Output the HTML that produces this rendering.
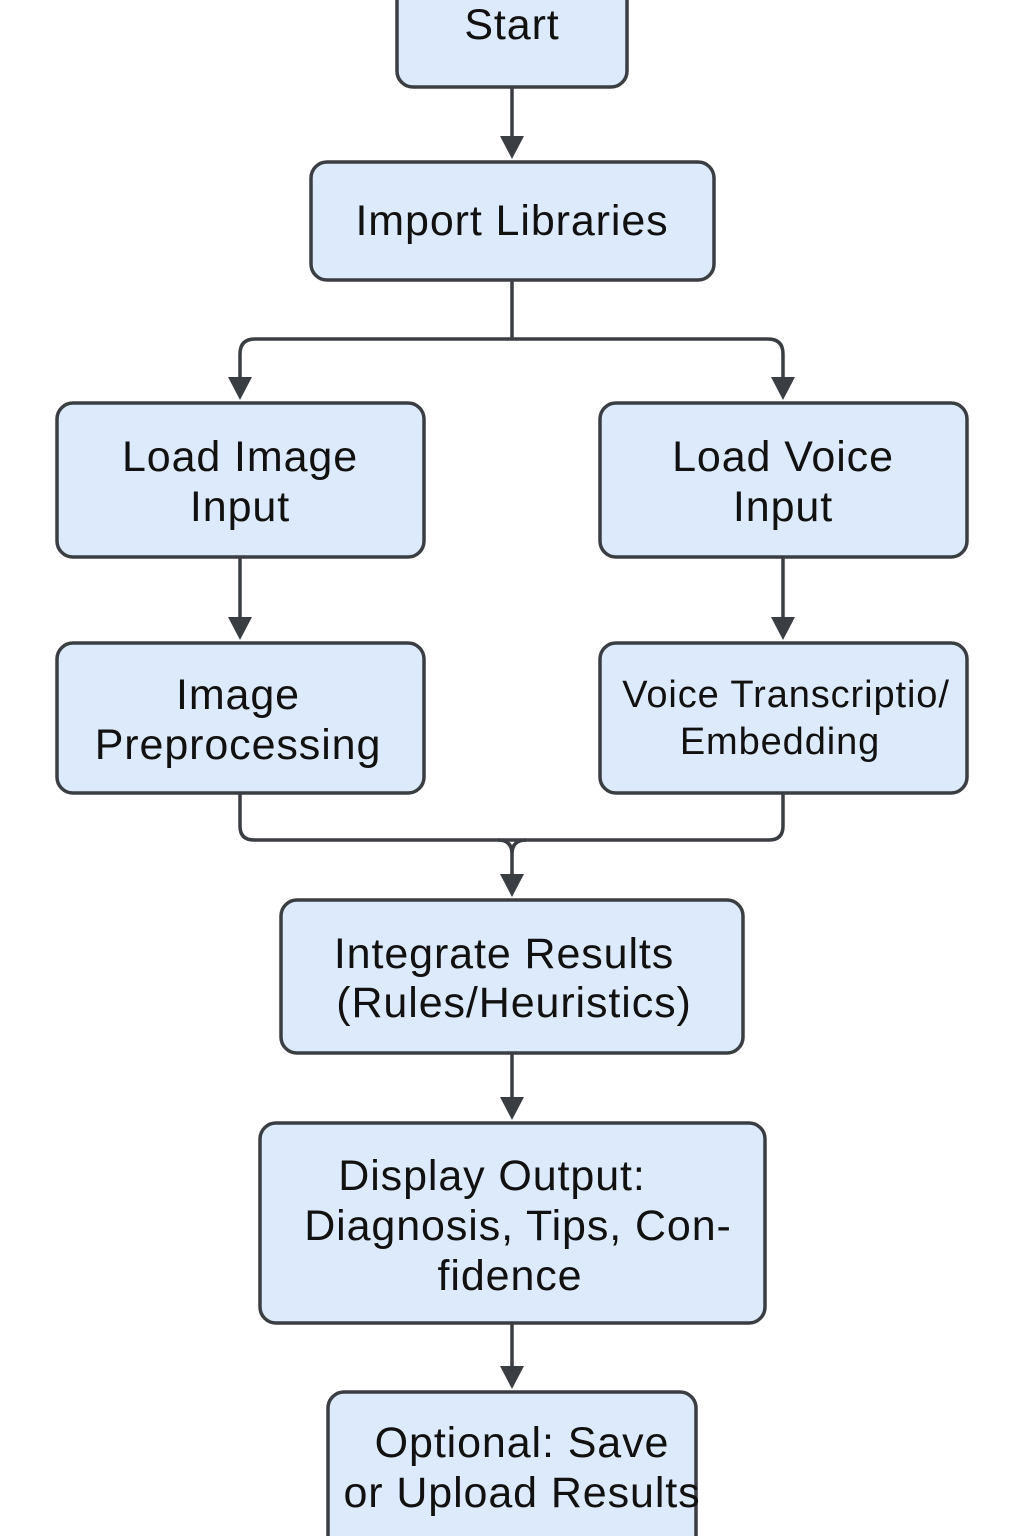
<!DOCTYPE html>
<html><head><style>
html,body{margin:0;padding:0;background:#fff;}
svg{display:block;}
text{font-family:"Liberation Sans",sans-serif;fill:#111;text-anchor:middle;letter-spacing:0.9px;}
</style></head><body>
<svg width="1024" height="1536" viewBox="0 0 1024 1536">
<g fill="#dceafb" stroke="#3a3d42" stroke-width="3.5">
<rect x="397" y="-20" width="230" height="107" rx="16"/>
<rect x="311" y="162" width="403" height="118" rx="16"/>
<rect x="57" y="403" width="367" height="154" rx="16"/>
<rect x="600" y="403" width="367" height="154" rx="16"/>
<rect x="57" y="643" width="367" height="150" rx="16"/>
<rect x="600" y="643" width="367" height="150" rx="16"/>
<rect x="281" y="900" width="462" height="153" rx="16"/>
<rect x="260" y="1123" width="505" height="200" rx="16"/>
<rect x="328" y="1392" width="368" height="170" rx="16"/>
</g>
<g stroke="#3a3d42" stroke-width="3.5" fill="none">
<path d="M512 88 V138"/>
<path d="M512 281 V339"/>
<path d="M240 380 V354 Q240 339 255 339 H768 Q783 339 783 354 V380"/>
<path d="M240 558 V620"/>
<path d="M783 558 V620"/>
<path d="M240 794 V826 Q240 840 254 840 H769 Q783 840 783 826 V794"/>
<path d="M498 840 Q512 840 512 854 V878 M526 840 Q512 840 512 854"/>
<path d="M512 1054 V1100"/>
<path d="M512 1324 V1370"/>
</g>
<g fill="#3a3d42">
<path d="M500 136 L524 136 L512 159z"/>
<path d="M228 377 L252 377 L240 400z"/>
<path d="M771 377 L795 377 L783 400z"/>
<path d="M228 617 L252 617 L240 640z"/>
<path d="M771 617 L795 617 L783 640z"/>
<path d="M500 874 L524 874 L512 897z"/>
<path d="M500 1097 L524 1097 L512 1120z"/>
<path d="M500 1366 L524 1366 L512 1389z"/>
</g>
<g font-size="43">
<text x="512" y="39">Start</text>
<text x="512" y="235">Import Libraries</text>
<text x="240" y="471">Load Image</text>
<text x="240" y="521">Input</text>
<text x="783" y="471">Load Voice</text>
<text x="783" y="521">Input</text>
<text x="238" y="709">Image</text>
<text x="238" y="759">Preprocessing</text>
<text x="504" y="968">Integrate Results</text>
<text x="514" y="1017">(Rules/Heuristics)</text>
<text x="492" y="1190">Display Output:</text>
<text x="518" y="1240">Diagnosis, Tips, Con-</text>
<text x="510" y="1290">fidence</text>
<text x="522" y="1457">Optional: Save</text>
<text x="522" y="1507">or Upload Results</text>
</g>
<g font-size="38">
<text x="786" y="707">Voice Transcriptio/</text>
<text x="780" y="754">Embedding</text>
</g>
</svg>
</body></html>
